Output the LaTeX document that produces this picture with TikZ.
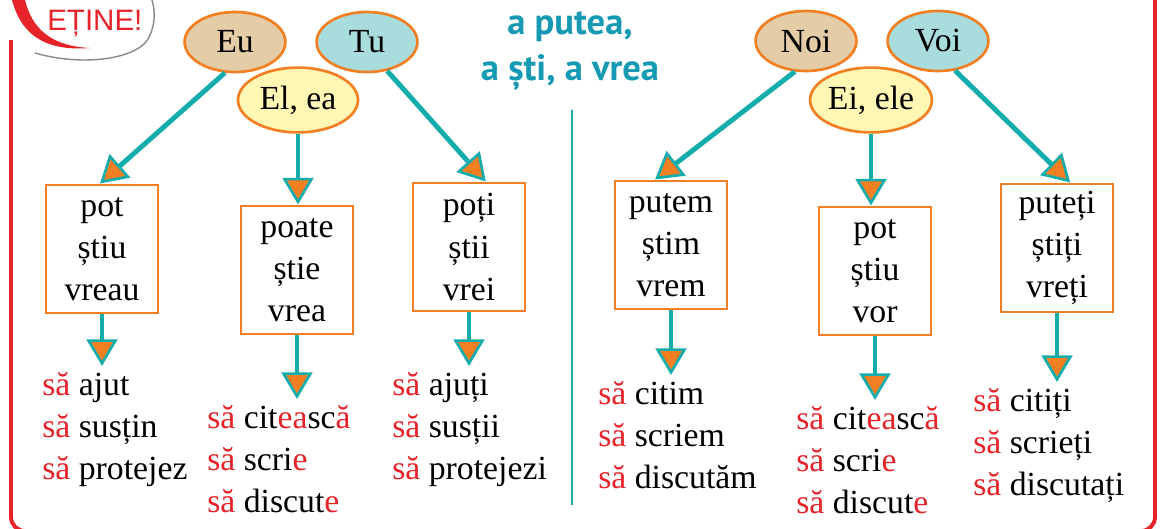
\documentclass[tikz,border=0pt]{standalone}
\usepackage{fontspec}
\setmainfont{Liberation Serif}
\newfontfamily\rtsans{PT Sans}
\newfontfamily\rtlogo{Liberation Sans}
\usepackage{tikz}
\usetikzlibrary{
  arrows.meta,
  shapes.geometric,
  positioning,
  calc
}
\definecolor{rtRed}{HTML}{E52329}
\definecolor{rtTeal}{HTML}{15ACAC}
\definecolor{rtTitle}{HTML}{1699B2}
\definecolor{rtOrange}{HTML}{F27F22}
\definecolor{rtTan}{HTML}{E3CCA6}
\definecolor{rtAqua}{HTML}{A9DCDD}
\definecolor{rtYellow}{HTML}{FFF7B3}
\definecolor{rtGray}{HTML}{8A8A8A}
\newcommand{\rtr}[1]{\textcolor{rtRed}{#1}}
\tikzset{
  pronoun/.style={
    draw=rtOrange, line width=1.9pt, ellipse, inner sep=0pt,
    minimum width=2.52cm, minimum height=1.5cm, font=\fontsize{24}{30}\selectfont
  },
  eupron/.style={pronoun, fill=rtTan},
  tupron/.style={pronoun, fill=rtAqua},
  elpron/.style={pronoun, fill=rtYellow, minimum width=3cm, minimum height=1.62cm},
  formbox/.style={
    draw=rtOrange, line width=2.1pt, fill=white, minimum width=2.8cm,
    minimum height=3.2cm, align=center, inner sep=0pt, font=\fontsize{24}{30}\selectfont
  },
  sublist/.style={anchor=north west, align=left, inner sep=0pt, font=\fontsize{24}{30}\selectfont},
  verbarrow/.style={rtTeal, line width=3.5pt,
    -{Triangle[length=19pt, width=22pt, fill=rtOrange, line width=1.9pt]}},
  tolist/.style={verbarrow, shorten >=0.15cm},
  frameline/.style={rtRed, line width=2.8pt, rounded corners=0.35cm},
  divider/.style={rtTeal, line width=1.2pt},
  heading/.style={font=\rtsans\bfseries\fontsize{26}{33}\selectfont, text=rtTitle, align=center}
}

\begin{document}
\begin{tikzpicture}[x=0.025cm, y=-0.025cm]
  \useasboundingbox (0,0) rectangle (1160,528);
  % frame and the "retine" badge
  \draw[frameline] (11,40) -- (11,531) -- (1155,531) -- (1155,0);
  \fill[rtRed] (12,0) .. controls (20,30) and (40,52) .. (90,48) .. controls (50,46) and (32,28) .. (25,0) -- cycle;
  \draw[rtGray, line width=1pt] (35,53) .. controls (80,66) and (130,60) .. (146,42) .. controls (155,30) and (156,12) .. (152,0);
  \node[anchor=base west, inner sep=0pt, text=rtRed, font=\rtlogo\fontsize{21}{21}\selectfont] (badge) at (47,30) {EȚINE!};
  % title in the middle
  \node[heading] (title) at (570,51) {a putea,\\a ști, a vrea};
  \draw[divider] (572,110) -- (572,505);

  % Singular: pronouns
  \node[eupron] (eu) at (235,42) {Eu};
  \node[tupron] (tu) at (367,42) {Tu};
  \node[elpron] (elea) at (298,100) {El, ea};
  % Plural: pronouns
  \node[eupron] (noi) at (806,41) {Noi};
  \node[tupron] (voi) at (938,41) {Voi};
  \node[elpron] (eiele) at (871,100) {Ei, ele};

  % verb forms
  \node[formbox] (eubox) at (102,249) {pot\\știu\\vreau};
  \node[formbox] (elbox) at (297,270) {poate\\știe\\vrea};
  \node[formbox] (tubox) at (469,247) {poți\\știi\\vrei};
  \node[formbox] (noibox) at (671,245) {putem\\știm\\vrem};
  \node[formbox] (eibox) at (875,271) {pot\\știu\\vor};
  \node[formbox] (voibox) at (1057,248) {puteți\\știți\\vreți};

  % subjunctive lists
  \node[sublist] (eulist) at (42,372) {\rtr{să} ajut\\\rtr{să} susțin\\\rtr{să} protejez};
  \node[sublist] (ellist) at (207,405) {\rtr{să} cit\rtr{ea}sc\rtr{ă}\\\rtr{să} scri\rtr{e}\\\rtr{să} discut\rtr{e}};
  \node[sublist] (tulist) at (392,372) {\rtr{să} ajuți\\\rtr{să} susții\\\rtr{să} protejezi};
  \node[sublist] (noilist) at (598,381) {\rtr{să} citim\\\rtr{să} scriem\\\rtr{să} discutăm};
  \node[sublist] (eilist) at (796,406) {\rtr{să} cit\rtr{ea}sc\rtr{ă}\\\rtr{să} scri\rtr{e}\\\rtr{să} discut\rtr{e}};
  \node[sublist] (voilist) at (973,388) {\rtr{să} citiți\\\rtr{să} scrieți\\\rtr{să} discutați};

  % pronoun -> forms
  \draw[verbarrow] (eu.252) -- ([xshift=-0.05cm]eubox.north);
  \draw[verbarrow] (elea.south) -- (elea.south |- elbox.north);
  \draw[verbarrow] (tu.305) -- ([xshift=0.42cm]tubox.north);
  \draw[verbarrow] (noi.250) -- ([xshift=-0.4cm]noibox.north);
  \draw[verbarrow] (eiele.south) -- (eiele.south |- eibox.north);
  \draw[verbarrow] (voi.300) -- ([xshift=0.33cm]voibox.north);
  % forms -> lists
  \draw[tolist] (eubox.south) -- (eubox.south |- eulist.north);
  \draw[tolist] (elbox.south) -- (elbox.south |- ellist.north);
  \draw[tolist] (tubox.south) -- (tubox.south |- tulist.north);
  \draw[tolist] (noibox.south) -- (noibox.south |- noilist.north);
  \draw[tolist] (eibox.south) -- (eibox.south |- eilist.north);
  \draw[tolist] (voibox.south) -- (voibox.south |- voilist.north);
\end{tikzpicture}
\end{document}
